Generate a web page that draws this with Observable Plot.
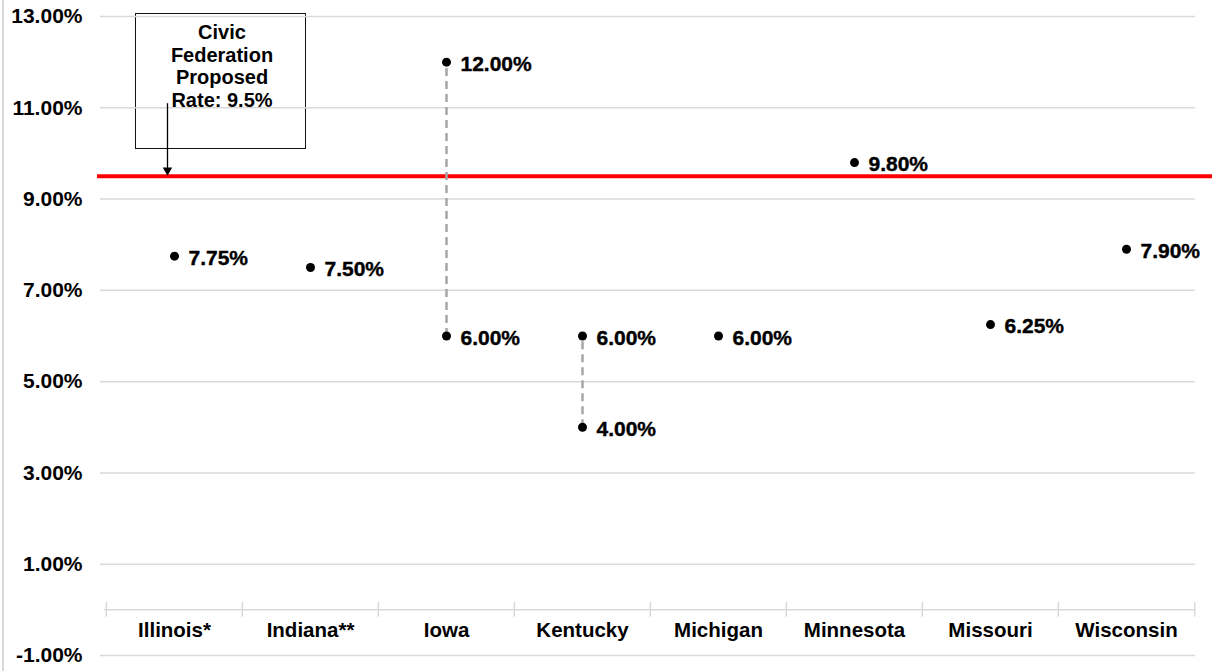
<!DOCTYPE html>
<html>
<head>
<meta charset="utf-8">
<script src="https://cdn.jsdelivr.net/npm/d3@7"></script>
<script src="https://cdn.jsdelivr.net/npm/@observablehq/plot@0.6"></script>
<style>
  body { margin: 0; background: #fff; font-family: "Liberation Sans", Arial, sans-serif; }
  #wrap { position: relative; width: 1212px; height: 671px; overflow: hidden; }
  #frame { position: absolute; left: 2px; top: 0; width: 1.5px; height: 671px; background: #d9d9d9; }
  #note { position: absolute; left: 135px; top: 13px; width: 166px; height: 127px;
          border: 1.5px solid #111; background: #fff; text-align: center;
          font-weight: bold; font-size: 20px; line-height: 22.5px; padding-top: 7px; padding-left: 3px; box-sizing: content-box; }
  #chart { position: absolute; left: 0; top: 0; }
</style>
</head>
<body>
<div id="wrap"><div id="frame"></div><div id="note">Civic<br>Federation<br>Proposed<br>Rate: 9.5%</div><div id="chart"></div></div>
<script>
const states = ["Illinois*", "Indiana**", "Iowa", "Kentucky", "Michigan", "Minnesota", "Missouri", "Wisconsin"];
const lowRates = [7.75, 7.5, 6.0, 4.0, 6.0, 9.8, 6.25, 7.9];
const highRates = [null, null, 12.0, 6.0, null, null, null, null];
const proposedRate = 9.5;
const yTicks = [-1, 1, 3, 5, 7, 9, 11, 13];
const annotationState = "Illinois*";
const arrowFrom = 11.1;

const points = [];
states.forEach((s, i) => {
  points.push({state: s, value: lowRates[i]});
  if (highRates[i] != null) points.push({state: s, value: highRates[i]});
});
const ranges = states.map((s, i) => ({state: s, lo: lowRates[i], hi: highRates[i]})).filter(d => d.hi != null);
const fmt = v => v.toFixed(2) + "%";

const W = 1212, H = 671, mL = 104, mR = 17, mT = 16, mB = 16;
const band = (W - mL - mR) / states.length;

const chart = Plot.plot({
  width: W, height: H,
  marginLeft: mL, marginRight: mR, marginTop: mT, marginBottom: mB,
  style: {fontFamily: "'Liberation Sans', Arial, sans-serif", background: "transparent", overflow: "visible"},
  x: {type: "band", domain: states, padding: 0, axis: null},
  y: {domain: [-1, 13], ticks: yTicks, axis: null},
  marks: [
    Plot.ruleY(yTicks, {stroke: "#d9d9d9", strokeWidth: 1.5, insetLeft: -4}),
    Plot.ruleY([0], {stroke: "#d9d9d9", strokeWidth: 1.5}),
    Plot.ruleX(states, {x: d => d, y1: -0.16, y2: 0.16, dx: -band / 2, stroke: "#d9d9d9", strokeWidth: 1.5}),
    Plot.ruleX([states[states.length - 1]], {x: d => d, y1: -0.16, y2: 0.16, dx: band / 2, stroke: "#d9d9d9", strokeWidth: 1.5}),
    Plot.axisY({ticks: yTicks, tickFormat: fmt, tickSize: 0, tickPadding: 22, fontSize: 21, fontWeight: "bold", fill: "#000"}),
    Plot.text(states, {x: d => d, frameAnchor: "bottom", dy: -19, text: d => d, fontSize: 20.5, fontWeight: "bold", fill: "#000"}),
    Plot.ruleY([proposedRate], {stroke: "#ff0000", strokeWidth: 4, insetLeft: -7, insetRight: -mR}),
    Plot.link([{state: annotationState}], {x1: "state", x2: "state", y1: () => arrowFrom, y2: () => proposedRate + 0.17, dx: -7, stroke: "#000", strokeWidth: 1.3}),
    Plot.dot([{state: annotationState}], {x: "state", y: () => proposedRate + 0.13, dx: -7, symbol: "triangle2", rotate: 180, r: 4.5, fill: "#000", stroke: "none"}),
    Plot.link(ranges, {x1: "state", x2: "state", y1: "lo", y2: "hi", stroke: "#a6a6a6", strokeWidth: 2.5, strokeDasharray: "8,5"}),
    Plot.dot(points, {x: "state", y: "value", r: 4.5, fill: "#000", stroke: "none"}),
    Plot.text(points, {x: "state", y: "value", text: d => fmt(d.value), dx: 14, dy: 2, textAnchor: "start", fontSize: 21, fontWeight: "bold", fill: "#000", stroke: "#000", strokeWidth: 0.4})
  ]
});
document.getElementById("chart").appendChild(chart);
</script>
</body>
</html>
